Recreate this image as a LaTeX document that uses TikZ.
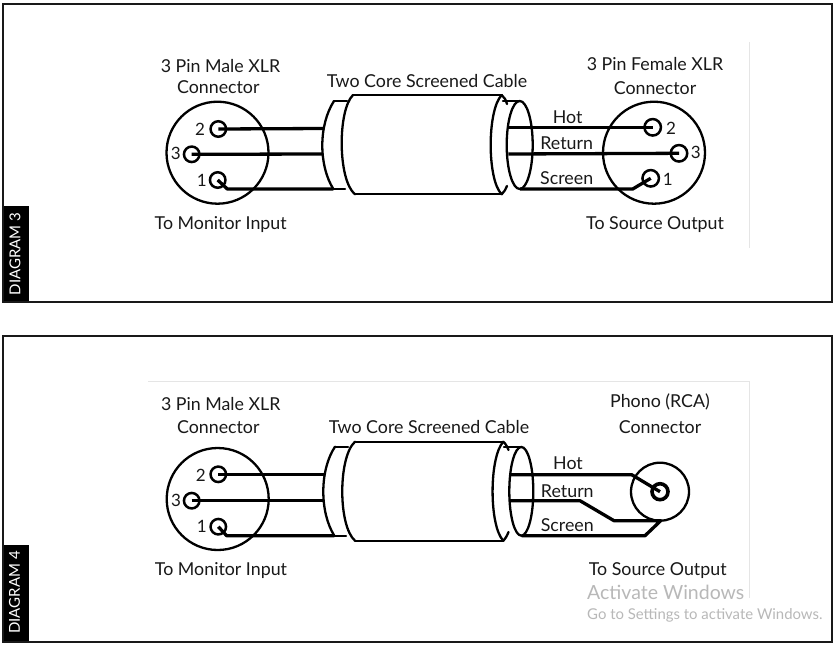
\documentclass[tikz,border=0pt]{standalone}
\usepackage{fontspec}
\usetikzlibrary{shapes.geometric}
\setmainfont{Lato}
\tikzset{
  x=1pt,y=-1pt,
  frame/.style={draw=black!90,line width=1.8pt},
  tab/.style={fill=black,draw=none},
  tabtext/.style={white,rotate=90,font=\fontsize{15}{17}\selectfont},
  lbl/.style={inner sep=0pt,font=\fontsize{17.8}{20}\selectfont,text=black!90},
  num/.style={inner sep=0pt,font=\fontsize{17}{20}\selectfont,text=black!90},
  shell/.style={draw=black,line width=2.3pt,fill=none,line cap=round},
  wire/.style={draw=black,line width=3.3pt,line join=round},
  xlr/.style={circle,draw=black,line width=2.3pt,minimum size=102pt,inner sep=0pt},
  pin/.style={circle,draw=black,line width=2.5pt,minimum size=15.5pt,inner sep=0pt},
  faint/.style={draw=black!10,line width=0.8pt},
  ghost/.style={inner sep=0pt,text=black!28,anchor=west},
}
\begin{document}
\begin{tikzpicture}
\useasboundingbox (0,0) rectangle (837,646);
\fill[white] (0,0) rectangle (837,646);
% --- faint guide lines
\coordinate (ga) at (749.3,42); \coordinate (gb) at (749.3,248);
\draw[faint] (ga) -- (gb);
\coordinate (gc) at (148,381); \coordinate (gd) at (749.3,381); \coordinate (ge) at (749.3,598);
\draw[faint] (gc) -- (gd) -- (ge);
% --- frames
\node[tab,minimum width=26pt,minimum height=96pt,inner sep=0pt] (tab3) at (16,254) {};
\node[tab,minimum width=26pt,minimum height=97pt,inner sep=0pt] (tab4) at (16,593.5) {};
\draw[frame] (3,4) rectangle (832,302);
\draw[frame] (3,336) rectangle (832,642);
\node[tabtext] (t3) at (15,254) {DIAGRAM 3};
\node[tabtext] (t4) at (14.5,592.5) {DIAGRAM 4};

% ===== DIAGRAM 3 =====
\node[xlr] (mA) at (217.5,152.7) {};
\node[pin] (mA2) at (218.3,129) {};
\node[pin] (mA3) at (191.7,154.3) {};
\node[pin] (mA1) at (217.7,180) {};
\node[xlr] (fA) at (654,152.7) {};
\node[pin,minimum size=16.5pt] (fA2) at (652.7,127.3) {};
\node[pin,minimum size=16.5pt] (fA3) at (679,153.3) {};
\node[pin,minimum size=16.5pt] (fA1) at (650.7,178.3) {};
% cable
\draw[shell] (353,95) -- (501.7,95);
\draw[shell] (355,194.3) -- (501.7,194.3);
\draw[shell] (353,95) .. controls (337.6,110) and (337.6,180) .. (355,194.3);
\draw[shell] (334,101) .. controls (318.5,125) and (318.5,165) .. (333.3,189);
\draw[shell] (334,101) -- (347,101);
\draw[shell] (333.3,189) -- (345,189);
\draw[shell] (501.7,95) .. controls (487,110) and (487,180) .. (501.7,194.3);
\draw[shell] (501.7,95) .. controls (504,97) and (506,100) .. (507,104);
\draw[shell] (501.7,194.3) .. controls (504,192) and (506,189) .. (507,186);
\draw[shell] (503,101) -- (519.7,101);
\node[draw=black,line width=2.3pt,ellipse,minimum width=26pt,minimum height=88pt,inner sep=0pt] (eA) at (519.7,145) {};
% wires
\coordinate (a1) at (323,128.5); \coordinate (a2) at (323,154);
\coordinate (a3) at (227.3,189); \coordinate (a4) at (333.3,189);
\draw[wire] (mA2.center) -- (a1);
\draw[wire] (mA3.center) -- (a2);
\draw[wire] (mA1.center) -- (a3) -- (a4);
\coordinate (b1) at (508.3,127.3); \coordinate (b2) at (508.3,154);
\coordinate (b3) at (520,189); \coordinate (b4) at (632.7,189);
\draw[wire] (b1) -- (fA2.center);
\draw[wire] (b2) -- (fA3.center);
\draw[wire] (b3) -- (b4) -- (fA1.center);
% labels
\node[lbl] (l1) at (220.5,65.7) {3 Pin Male XLR};
\node[lbl] (l2) at (218.3,87) {Connector};
\node[lbl] (l3) at (427,81) {Two Core Screened Cable};
\node[lbl] (l4) at (655,64.5) {3 Pin Female XLR};
\node[lbl] (l5) at (655,88) {Connector};
\node[lbl] (l6) at (220.7,225) {To Monitor Input};
\node[lbl] (l7) at (655,225) {To Source Output};
\node[lbl] (l8) at (567.7,116.7) {Hot};
\node[lbl] (l9) at (566.7,143.3) {Return};
\node[lbl] (l10) at (566.7,177.7) {Screen};
\node[num] (n1) at (200,129) {2};
\node[num] (n2) at (175.7,153.3) {3};
\node[num] (n3) at (201.7,180) {1};
\node[num] (n4) at (671,128.3) {2};
\node[num] (n5) at (695.7,152.7) {3};
\node[num] (n6) at (667.7,179.3) {1};

% ===== DIAGRAM 4 =====
\node[xlr] (mB) at (217.7,499) {};
\node[pin] (mB2) at (218.3,474.3) {};
\node[pin] (mB3) at (191.7,500.7) {};
\node[pin] (mB1) at (218.3,526.7) {};
\node[circle,draw=black,line width=2.3pt,minimum size=58pt,inner sep=0pt] (rca) at (660,491.7) {};
\node[circle,draw=black,line width=3.6pt,minimum size=16pt,inner sep=0pt] (rcap) at (660,491.7) {};
% cable
\draw[shell] (355,441.7) -- (503.3,441.7);
\draw[shell] (355,540.7) -- (503.3,540.7);
\draw[shell] (355,441.7) .. controls (338,457) and (338,526) .. (355,540.7);
\draw[shell] (335,446.7) .. controls (319.5,470) and (319.5,512) .. (334.3,535.7);
\draw[shell] (335,446.7) -- (348,446.7);
\draw[shell] (334.3,535.7) -- (346,535.7);
\draw[shell] (503.3,441.7) .. controls (489,457) and (489,526) .. (503.3,540.7);
\draw[shell] (503.3,441.7) .. controls (505,443) and (507,446) .. (508.5,450);
\draw[shell] (503.3,540.7) .. controls (505,539) and (507,536) .. (508.5,532);
\draw[shell] (504,447) -- (521.3,447);
\node[draw=black,line width=2.3pt,ellipse,minimum width=24pt,minimum height=88.7pt,inner sep=0pt] (eB) at (521.3,491.3) {};
% wires
\coordinate (c1) at (324,474.3); \coordinate (c2) at (324,500.7);
\coordinate (c3) at (226.7,535.7); \coordinate (c4) at (334.3,535.7);
\draw[wire] (mB2.center) -- (c1);
\draw[wire] (mB3.center) -- (c2);
\draw[wire] (mB1.center) -- (c3) -- (c4);
\coordinate (d1) at (510,474.7); \coordinate (d2) at (631.7,474.7);
\draw[wire] (d1) -- (d2) -- (rca.center);
\coordinate (e1) at (509.3,500.7); \coordinate (e2) at (580,500.7);
\coordinate (e3) at (614,520.7); \coordinate (e4) at (660.7,520.7);
\coordinate (e5) at (645,535.7); \coordinate (e6) at (521.7,535.7);
\draw[wire] (e1) -- (e2) -- (e3) -- (e4) -- (e5) -- (e6);
% labels
\node[lbl] (k1) at (220.7,404) {3 Pin Male XLR};
\node[lbl] (k2) at (218.3,427) {Connector};
\node[lbl] (k3) at (429,427.5) {Two Core Screened Cable};
\node[lbl] (k4) at (660,402) {Phono (RCA)};
\node[lbl] (k5) at (660,427) {Connector};
\node[lbl] (k6) at (221,571) {To Monitor Input};
\node[lbl] (k7) at (657.7,570.5) {To Source Output};
\node[lbl] (k8) at (568,463.3) {Hot};
\node[lbl] (k9) at (567.3,490.7) {Return};
\node[lbl] (k10) at (567.3,525.3) {Screen};
\node[num] (p1) at (200.7,475) {2};
\node[num] (p2) at (176,500) {3};
\node[num] (p3) at (201.7,526.7) {1};
\node[ghost,font=\fontsize{19.5}{22}\selectfont] (w1) at (587,592) {Activate Windows};
\node[ghost,font=\fontsize{14.9}{17}\selectfont] (w2) at (587,615) {Go to Settings to activate Windows.};
\end{tikzpicture}
\end{document}
